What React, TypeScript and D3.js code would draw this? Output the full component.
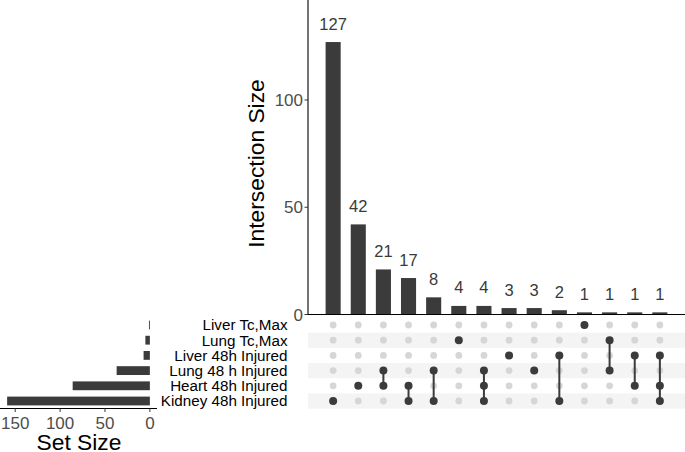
import React from "react";
import * as d3 from "d3";

const sets = ["Liver Tc,Max", "Lung Tc,Max", "Liver 48h Injured", "Lung 48 h Injured", "Heart 48h Injured", "Kidney 48h Injured"];
const intersectionSizes = [127, 42, 21, 17, 8, 4, 4, 3, 3, 2, 1, 1, 1, 1];
const intersectionMembers = [
  ["Kidney 48h Injured"],
  ["Heart 48h Injured"],
  ["Lung 48 h Injured", "Heart 48h Injured"],
  ["Heart 48h Injured", "Kidney 48h Injured"],
  ["Lung 48 h Injured", "Kidney 48h Injured"],
  ["Lung Tc,Max"],
  ["Lung 48 h Injured", "Heart 48h Injured", "Kidney 48h Injured"],
  ["Liver 48h Injured"],
  ["Lung 48 h Injured"],
  ["Liver 48h Injured", "Kidney 48h Injured"],
  ["Liver Tc,Max"],
  ["Lung Tc,Max", "Lung 48 h Injured"],
  ["Liver 48h Injured", "Heart 48h Injured"],
  ["Liver 48h Injured", "Heart 48h Injured", "Kidney 48h Injured"],
];
const intersectionTicks = [0, 50, 100];
const setSizeTicks = [0, 50, 100, 150];

const FONT = "'Liberation Sans', Arial, Helvetica, sans-serif";
const BAR = "#3b3b3b";

export default function App() {
  const W = 685, H = 452;
  const setSizes = sets.map((s) => d3.sum(intersectionSizes.filter((_, i) => intersectionMembers[i].includes(s))));

  const panelLeft = 308, panelRight = 685;
  const x = d3.scaleLinear().domain([0, intersectionSizes.length + 1]).range([panelLeft, panelRight]);
  const step = x(1) - x(0);
  const y = d3.scaleLinear().domain([0, 146.6]).range([314.5, 0]);

  const row = d3.scalePoint<string>().domain(sets).range([325, 401]);
  const rowStep = row.step();

  const maxSet = d3.max(setSizes) as number;
  const sx = d3.scaleLinear().domain([maxSet * 1.05, -maxSet * 0.05]).range([0, 157]);

  return (
    <svg width={W} height={H} style={{ position: "absolute", left: 0, top: 0 }} fontFamily={FONT}>
      <rect width={W} height={H} fill="#fff" />
      {/* intersection bars */}
      {intersectionSizes.map((v, i) => (
        <g key={"b" + i}>
          <rect x={x(i + 1) - step * 0.3} width={step * 0.6} y={y(v)} height={y(0) - y(v)} fill={BAR} />
          <text x={x(i + 1)} y={y(v) - 12.5} textAnchor="middle" fontSize={16.5} fill="#3a3a3a">{v}</text>
        </g>
      ))}
      {/* y axis */}
      <line x1={panelLeft} x2={panelLeft} y1={0} y2={y(0)} stroke="#000" strokeWidth={1.1} />
      <line x1={panelLeft} x2={panelRight} y1={y(0)} y2={y(0)} stroke="#000" strokeWidth={1.1} />
      {intersectionTicks.map((t) => (
        <g key={"t" + t}>
          <line x1={panelLeft - 3.5} x2={panelLeft} y1={y(t)} y2={y(t)} stroke="#333" strokeWidth={1} />
          <text x={panelLeft - 5} y={y(t)} dy="0.36em" textAnchor="end" fontSize={17} fill="#4d4d4d">{t}</text>
        </g>
      ))}
      <text transform={`translate(263.5,163.5) rotate(-90)`} textAnchor="middle" fontSize={22.8} fill="#000">Intersection Size</text>

      {/* matrix stripes */}
      {sets.map((s, r) => r % 2 === 1 ? (
        <rect key={"s" + s} x={panelLeft} width={panelRight - panelLeft} y={(row(s) as number) - rowStep / 2} height={rowStep} fill="#f4f4f4" />
      ) : null)}
      {/* dots */}
      {intersectionMembers.map((mem, i) => {
        const ys = mem.map((m) => row(m) as number);
        const y0 = d3.min(ys) as number, y1 = d3.max(ys) as number;
        return (
          <g key={"m" + i}>
            {sets.map((s) => !mem.includes(s) ? (
              <circle key={s} cx={x(i + 1)} cy={row(s)} r={3.4} fill="#d6d6d6" />
            ) : null)}
            {mem.length > 1 && <line x1={x(i + 1)} x2={x(i + 1)} y1={y0} y2={y1} stroke={BAR} strokeWidth={2} />}
            {mem.map((s) => (
              <circle key={s} cx={x(i + 1)} cy={row(s)} r={4} fill={BAR} />
            ))}
          </g>
        );
      })}

      {/* row labels */}
      {sets.map((s) => (
        <text key={"l" + s} x={287.5} y={row(s)} dy="0.36em" textAnchor="end" fontSize={15.2} fill="#000">{s}</text>
      ))}

      {/* set size bars */}
      {sets.map((s, r) => (
        <rect key={"sb" + s} x={sx(setSizes[r])} width={sx(0) - sx(setSizes[r])} y={(row(s) as number) - rowStep * 0.29} height={rowStep * 0.58} fill={BAR} />
      ))}
      <line x1={0} x2={157} y1={408.5} y2={408.5} stroke="#000" strokeWidth={1.1} />
      {setSizeTicks.map((t) => (
        <g key={"st" + t}>
          <line x1={sx(t)} x2={sx(t)} y1={408.5} y2={412} stroke="#333" strokeWidth={1} />
          <text x={sx(t)} y={428.5} textAnchor="middle" fontSize={17} fill="#4d4d4d">{t}</text>
        </g>
      ))}
      <text x={79} y={449.5} textAnchor="middle" fontSize={22.8} fill="#000">Set Size</text>
    </svg>
  );
}
